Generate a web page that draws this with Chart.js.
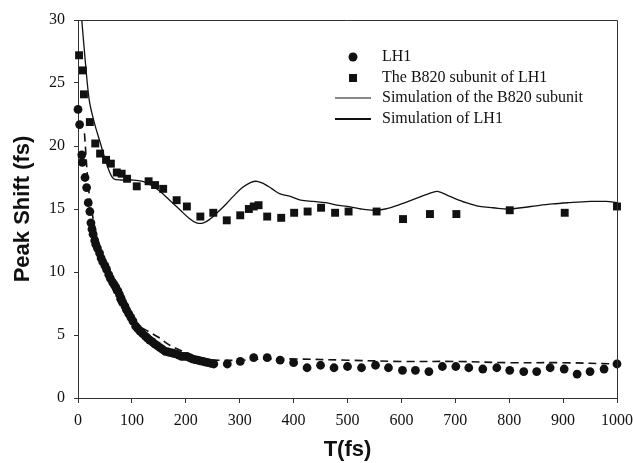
<!DOCTYPE html>
<html>
<head>
<meta charset="utf-8">
<script src="https://cdn.jsdelivr.net/npm/chart.js@4"></script>
<style>
  html, body { margin: 0; padding: 0; background: #fff; }
  #wrap { width: 633px; height: 463px; }
</style>
</head>
<body>
<div id="wrap"><canvas id="peakShift" width="633" height="463"></canvas></div>
<script>
// LH1 measured peak shift (fs) vs population time T (fs)
var lh1T = [0, 3, 7, 8, 13, 16, 19, 22, 24, 26, 28, 31, 33, 36, 40, 43, 46, 50, 53, 57, 60, 64, 67, 70,
  74, 77, 80, 83, 87, 90, 94, 98, 102, 107, 111, 115, 120, 125, 129, 133, 138, 142, 147, 152,
  157, 162, 167, 172, 177, 182, 187, 192, 197, 202, 207, 212, 217, 222, 227, 232, 237, 242, 247, 252,
  277, 301, 326, 351, 375, 400, 425, 450, 475, 500, 526, 552, 576, 602, 626, 651,
  676, 701, 725, 751, 777, 801, 827, 851, 876, 902, 926, 950, 976, 1000];
var lh1Shift = [22.9, 21.7, 19.3, 18.7, 17.5, 16.7, 15.5, 14.8, 13.9, 13.4, 13.0, 12.5, 12.2, 11.9, 11.5, 11.1, 10.8, 10.5, 10.2, 9.8, 9.5, 9.2, 9.0, 8.8,
  8.5, 8.2, 7.9, 7.6, 7.3, 7.0, 6.7, 6.4, 6.1, 5.7, 5.5, 5.3, 5.1, 4.9, 4.75, 4.6, 4.45, 4.3, 4.15, 4.0,
  3.85, 3.7, 3.65, 3.6, 3.55, 3.5, 3.4, 3.3, 3.3, 3.3, 3.2, 3.1, 3.05, 3.0, 2.95, 2.9, 2.85, 2.8, 2.75, 2.7,
  2.7, 2.9, 3.2, 3.2, 3.0, 2.8, 2.4, 2.6, 2.4, 2.5, 2.4, 2.6, 2.4, 2.2, 2.2, 2.1,
  2.5, 2.5, 2.4, 2.3, 2.4, 2.2, 2.1, 2.1, 2.4, 2.3, 1.9, 2.1, 2.3, 2.7];

// B820 subunit measured peak shift
var b820T = [2, 9, 11, 22, 32, 41, 52, 61, 72, 81, 91, 109, 131, 143, 158, 183, 202, 227, 251,
  276, 301, 317, 326, 335, 351, 377, 401, 426, 451, 477, 502, 554, 603, 653, 702, 801, 903, 1000];
var b820Shift = [27.2, 26.0, 24.1, 21.9, 20.2, 19.4, 18.9, 18.6, 17.9, 17.8, 17.4, 16.8, 17.2, 16.9, 16.6, 15.7, 15.2, 14.4, 14.7,
  14.1, 14.5, 15.0, 15.2, 15.3, 14.4, 14.3, 14.7, 14.8, 15.1, 14.7, 14.8, 14.8, 14.2, 14.6, 14.6, 14.9, 14.7, 15.2];

// simulated curves
var simB820T = [7, 14, 21, 30, 41, 50, 58, 66, 80, 100, 120, 135, 152, 170, 190, 205, 220, 233, 245,
  258, 275, 288, 305, 320, 332, 345, 360, 375, 394, 413, 437, 460, 480, 500, 525, 548, 570, 600,
  625, 650, 667, 690, 720, 745, 770, 800, 840, 880, 910, 950, 980, 1000];
var simB820Shift = [30, 26.5, 23.6, 21.9, 20.3, 19.0, 18.0, 17.4, 17.3, 17.3, 17.2, 16.9, 16.4, 15.7, 14.9, 14.3, 13.9, 13.9, 14.2,
  14.7, 15.4, 16.0, 16.7, 17.1, 17.2, 17.0, 16.6, 16.2, 16.0, 15.7, 15.6, 15.5, 15.3, 15.2, 15.0, 14.9, 15.0, 15.4,
  15.8, 16.2, 16.4, 16.0, 15.5, 15.2, 15.1, 15.0, 15.2, 15.4, 15.5, 15.6, 15.6, 15.5];

var simLH1T = [12, 20, 30, 40, 50, 60, 75, 90, 110, 130, 150, 170, 200, 230, 260, 300, 350, 400, 500, 600, 700, 800, 900, 1000];
var simLH1Shift = [21.0, 16.5, 13.8, 12.0, 10.6, 9.2, 7.6, 6.6, 5.8, 5.3, 4.8, 4.2, 3.6, 3.1, 3.0, 3.0, 3.1, 3.1, 3.0, 2.9, 2.9, 2.8, 2.8, 2.7];

var xTicks = [0, 100, 200, 300, 400, 500, 600, 700, 800, 900, 1000];
var yTicks = [0, 5, 10, 15, 20, 25, 30];

function pairs(xs, ys) {
  return xs.map(function(x, i) { return { x: x, y: ys[i] }; });
}

var ink = '#111';

// box around the plot area plus the legend inside it
var framePlugin = {
  id: 'frame',
  afterDatasetsDraw: function(chart) {
    var c = chart.ctx, a = chart.chartArea;
    c.save();
    c.strokeStyle = '#333';
    c.lineWidth = 1;
    c.beginPath();
    c.moveTo(a.left, a.top + 0.5);
    c.lineTo(a.right + 0.5, a.top + 0.5);
    c.lineTo(a.right + 0.5, a.bottom);
    c.stroke();

    var ds = chart.data.datasets;
    var mx = a.left + 275, tx = a.left + 304;
    var rows = [a.top + 37, a.top + 58, a.top + 78, a.top + 99];
    c.fillStyle = ink;
    c.strokeStyle = ink;
    c.font = '16px "Liberation Serif", "DejaVu Serif", serif';
    c.textBaseline = 'middle';
    c.textAlign = 'left';
    ds.forEach(function(d, i) {
      var y = rows[i];
      if (d.pointStyle === 'circle' && !d.showLine) {
        c.beginPath();
        c.arc(mx, y, 4.5, 0, Math.PI * 2);
        c.fill();
      } else if (d.pointStyle === 'rect' && !d.showLine) {
        c.fillRect(mx - 4, y - 4, 8, 8);
      } else {
        c.lineWidth = d.legendWidth;
        c.beginPath();
        c.moveTo(a.left + 257, y);
        c.lineTo(a.left + 293, y);
        c.stroke();
      }
      c.fillText(d.label, tx, y);
    });
    c.restore();
  }
};

var ctx = document.getElementById('peakShift').getContext('2d');

var chart = new Chart(ctx, {
  type: 'scatter',
  data: {
    datasets: [{
      label: 'LH1',
      data: pairs(lh1T, lh1Shift),
      pointStyle: 'circle',
      pointRadius: 4.4,
      backgroundColor: ink,
      borderColor: ink,
      borderWidth: 0,
      showLine: false,
      clip: false
    }, {
      label: 'The B820 subunit of LH1',
      data: pairs(b820T, b820Shift),
      pointStyle: 'rect',
      pointRadius: 5.6,
      backgroundColor: ink,
      borderColor: ink,
      borderWidth: 0,
      showLine: false,
      clip: false
    }, {
      label: 'Simulation of the B820 subunit',
      data: pairs(simB820T, simB820Shift),
      showLine: true,
      pointRadius: 0,
      borderColor: ink,
      borderWidth: 1.3,
      tension: 0.35,
      legendWidth: 1.2
    }, {
      label: 'Simulation of LH1',
      data: pairs(simLH1T, simLH1Shift),
      showLine: true,
      pointRadius: 0,
      borderColor: ink,
      borderWidth: 1.6,
      borderDash: [8, 5],
      tension: 0.35,
      legendWidth: 2
    }]
  },
  options: {
    responsive: false,
    animation: false,
    layout: { padding: { top: 20, right: 0, left: 10, bottom: 0 } },
    plugins: {
      legend: { display: false },
      tooltip: { enabled: false }
    },
    scales: {
      x: {
        type: 'linear',
        min: 0,
        max: 1000,
        afterBuildTicks: function(s) { s.ticks = xTicks.map(function(v) { return { value: v }; }); },
        afterFit: function(s) {
          s.height = 65;
          s.paddingLeft = 0;
          s.paddingRight = 16;
        },
        grid: { drawOnChartArea: false, tickLength: 5, color: '#333' },
        border: { color: '#333', width: 1 },
        ticks: {
          color: ink,
          padding: 8,
          maxRotation: 0,
          callback: function(v) { return String(v); },
          font: { family: '"Liberation Serif", serif', size: 16 }
        },
        title: {
          display: true,
          text: 'T(fs)',
          color: ink,
          padding: { top: 5, bottom: 0 },
          font: { family: '"Liberation Sans", Arial, sans-serif', size: 22, weight: 'bold' }
        }
      },
      y: {
        type: 'linear',
        min: 0,
        max: 30,
        afterBuildTicks: function(s) { s.ticks = yTicks.map(function(v) { return { value: v }; }); },
        afterFit: function(s) { s.width = 68; },
        grid: { drawOnChartArea: false, tickLength: 4, color: '#333' },
        border: { color: '#333', width: 1 },
        ticks: {
          color: ink,
          padding: 9,
          font: { family: '"Liberation Serif", serif', size: 16 }
        },
        title: {
          display: true,
          text: 'Peak Shift (fs)',
          color: ink,
          padding: { top: 0, bottom: 4 },
          font: { family: '"Liberation Sans", Arial, sans-serif', size: 22, weight: 'bold' }
        }
      }
    }
  },
  plugins: [framePlugin]
});
</script>
</body>
</html>
